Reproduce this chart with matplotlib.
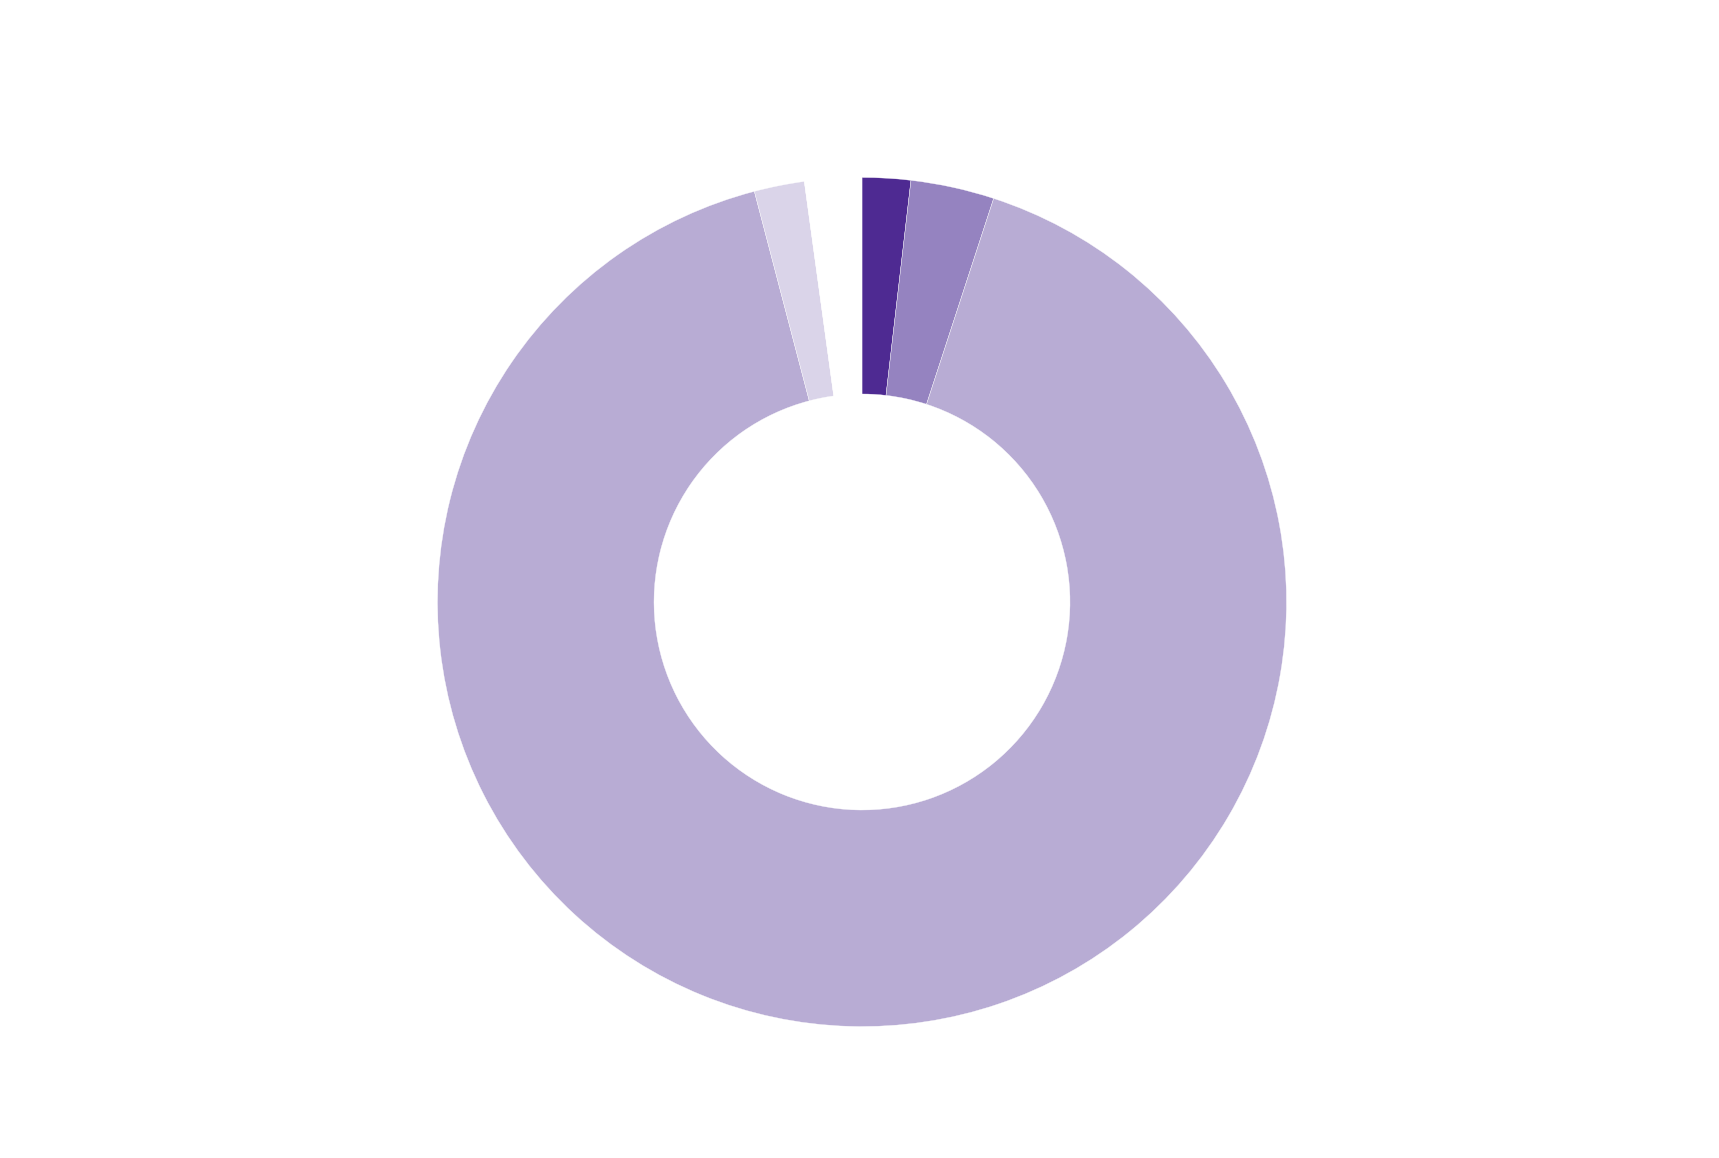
import matplotlib
matplotlib.use("Agg")
import matplotlib.pyplot as plt

# donut shares (percent), clockwise from 12 o'clock; last slice is the blank gap
labels = ["A", "B", "C", "D", "gap"]
values = [1.84, 3.18, 90.90, 1.91, 2.17]
colors = ["#4e2a92", "#9583c0", "#b8acd4", "#dad4e9", "#ffffff"]

W, H = 1719, 1158
fig = plt.figure(figsize=(W / 100, H / 100), dpi=100)
ax = fig.add_axes([0, 0, 1, 1])

outer_r = 424.5
inner_r = 208
ax.pie(values, colors=colors, startangle=90, counterclock=False,
       center=(862, H - 602), radius=outer_r,
       wedgeprops=dict(width=outer_r - inner_r, edgecolor="white", linewidth=0.25))

ax.set_xlim(0, W)
ax.set_ylim(0, H)
ax.set_aspect("equal")
ax.axis("off")

fig.savefig("out.png", dpi=100, facecolor="white")
